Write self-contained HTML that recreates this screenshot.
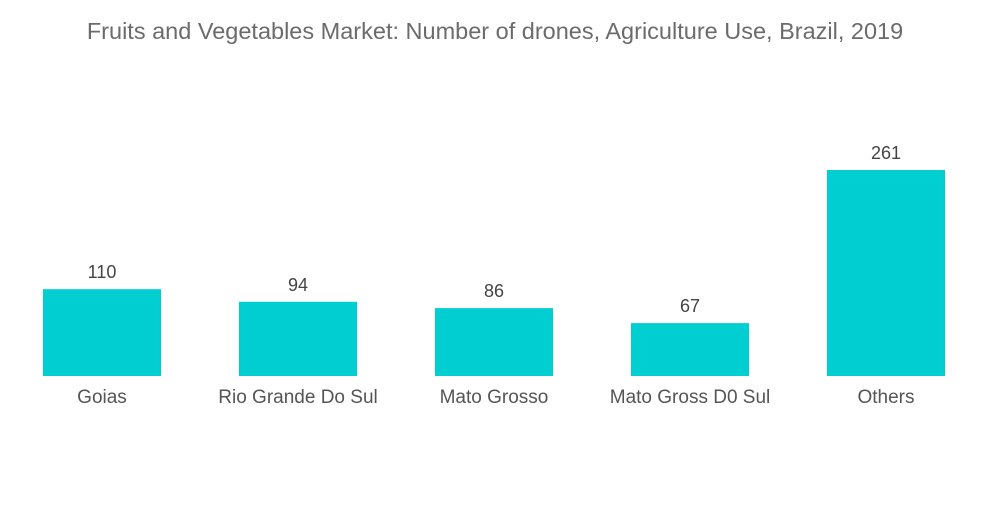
<!DOCTYPE html>
<html><head><meta charset="utf-8"><style>
body{margin:0;background:#fff;font-family:"Liberation Sans",sans-serif;}
svg text{font-family:"Liberation Sans",sans-serif;}
</style></head><body>
<svg width="1000" height="504">
<text x="495" y="39" text-anchor="middle" font-size="23.5" fill="#6b6b6b">Fruits and Vegetables Market: Number of drones, Agriculture Use, Brazil, 2019</text>
<g id="bars"></g>
</svg>
<script>
const categories=["Goias","Rio Grande Do Sul","Mato Grosso","Mato Gross D0 Sul","Others"];
const values=[110,94,86,67,261];
const baseY=376, scale=206/261, x0=43, step=196, bw=118;
const g=document.getElementById('bars');
const ns="http://www.w3.org/2000/svg";
categories.forEach((c,i)=>{
  const h=values[i]*scale, x=x0+i*step;
  const r=document.createElementNS(ns,'rect');
  r.setAttribute('x',x);r.setAttribute('y',baseY-h);r.setAttribute('width',bw);r.setAttribute('height',h);r.setAttribute('fill','#00ced1');
  
  
  g.appendChild(r);
  const v=document.createElementNS(ns,'text');
  v.setAttribute('x',x+bw/2);v.setAttribute('y',baseY-h-11);v.setAttribute('text-anchor','middle');v.setAttribute('font-size','18');v.setAttribute('fill','#444');
  v.textContent=values[i];
  
  
  g.appendChild(v);
  const t=document.createElementNS(ns,'text');
  t.setAttribute('x',x+bw/2);t.setAttribute('y',403);t.setAttribute('text-anchor','middle');t.setAttribute('font-size','19');t.setAttribute('fill','#555');
  t.textContent=c;
  
  
  g.appendChild(t);
});
</script>
</body></html>
